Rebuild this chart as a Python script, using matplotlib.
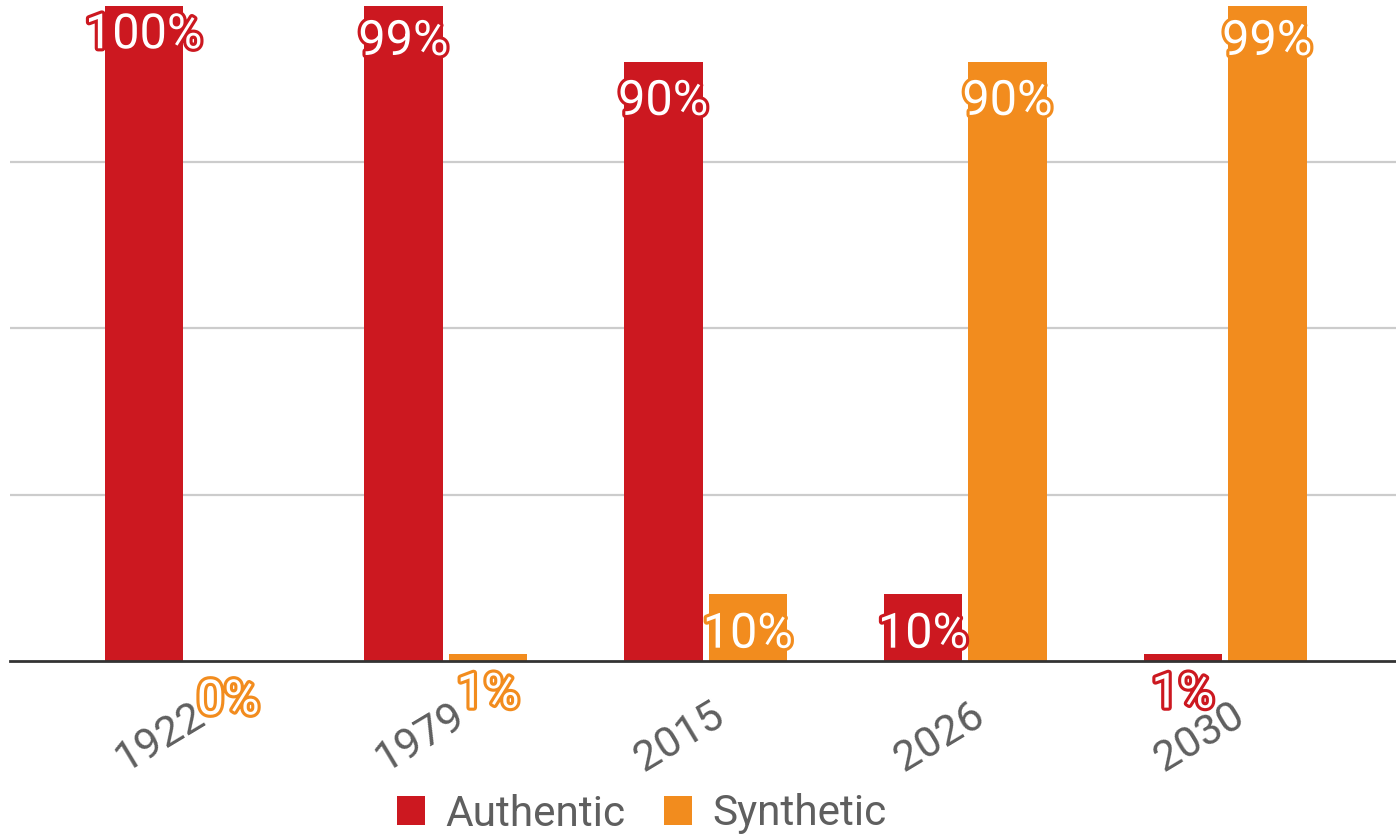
import matplotlib
matplotlib.use("Agg")
import numpy as np
from matplotlib import pyplot as plt
from matplotlib import patheffects
from matplotlib.patches import Patch
from matplotlib.transforms import ScaledTranslation

plt.rcParams['font.family'] = ['Roboto', 'DejaVu Sans']

years = ['1922', '1979', '2015', '2026', '2030']
authentic = [100, 99, 90, 10, 1]
synthetic = [0, 1, 10, 90, 99]

red = '#cc1820'
orange = '#f28c1e'
grey_text = '#5f5f5f'

fig = plt.figure(figsize=(13.96, 8.39), dpi=100)
ax = fig.add_axes([10 / 1396, 178 / 839, 1386 / 1396, 655 / 839])

x = np.arange(len(years))
width = 0.302
offset = 0.1627
bars_a = ax.bar(x - offset, authentic, width, color=red, zorder=2)
bars_s = ax.bar(x + offset, synthetic, width, color=orange, zorder=2)

ax.set_xlim(-0.6776, 4.658)
ax.set_ylim(0, 98.35)

# gridlines + baseline
for g in [25, 50, 75]:
    ax.axhline(g, color='#cccccc', lw=1.6, zorder=1)
ax.axhline(0, color='#333333', lw=2, zorder=3, clip_on=False)

for s in ax.spines.values():
    s.set_visible(False)
ax.set_yticks([])
ax.set_xticks(x)
ax.set_xticklabels(years, rotation=31, fontsize=31, color=grey_text, ha='center')
ax.tick_params(axis='x', length=0, pad=24)
shift = ScaledTranslation(-26 / 100, 0, fig.dpi_scale_trans)
for lab in ax.get_xticklabels():
    lab.set_transform(lab.get_transform() + shift)

# value labels: white text with coloured outline, just under bar top
for bars, vals, col in [(bars_a, authentic, red), (bars_s, synthetic, orange)]:
    for b, v in zip(bars, vals):
        cx = b.get_x() + b.get_width() / 2
        t = ax.annotate(f'{v}%', (cx, v), xytext=(0, -29), textcoords='offset points',
                        ha='center', va='center', fontsize=35, color='white',
                        annotation_clip=False, zorder=5)
        t.set_path_effects([patheffects.withStroke(linewidth=4.5, foreground=col)])

handles = [Patch(facecolor=red, label='Authentic'), Patch(facecolor=orange, label='Synthetic')]
fig.legend(handles=handles, loc='center', bbox_to_anchor=(642 / 1396, 1 - 814 / 839),
           ncol=2, frameon=False, fontsize=30.5, labelcolor=grey_text,
           handlelength=0.65, handleheight=0.65, handletextpad=0.5, columnspacing=0.9)

fig.savefig('out.png', dpi=100)
